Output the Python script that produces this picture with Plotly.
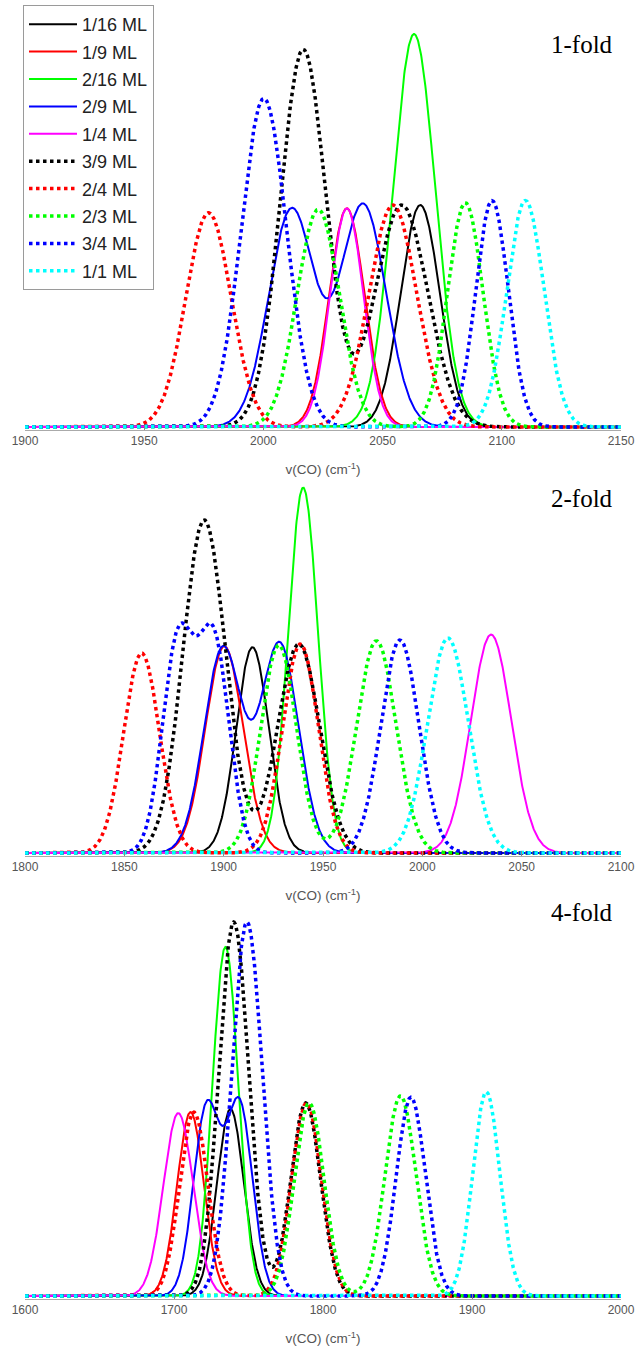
import numpy as np
import plotly.graph_objects as go

# ---------------- data ----------------
SERIES = ["1/16 ML", "1/9 ML", "2/16 ML", "2/9 ML", "1/4 ML",
          "3/9 ML", "2/4 ML", "2/3 ML", "3/4 ML", "1/1 ML"]
COLORS = ["#000000", "#ff0000", "#00ff00", "#0000ff", "#ff00ff",
          "#000000", "#ff0000", "#00ff00", "#0000ff", "#00ffff"]
DOTTED = [False, False, False, False, False, True, True, True, True, True]

PANEL_TITLES = ["1-fold", "2-fold", "4-fold"]
X_RANGES = [[1900, 2150], [1800, 2100], [1600, 2000]]
X_TICKS = [[1900, 1950, 2000, 2050, 2100, 2150],
           [1800, 1850, 1900, 1950, 2000, 2050, 2100],
           [1600, 1700, 1800, 1900, 2000]]

# peak centres (cm-1), relative heights, Gaussian widths (sigma, cm-1)
ONEFOLD_CENTERS = [[2065.8], [2035.0], [2063.2], [2011.8, 2041.9], [2035.0],
                   [2016.7, 2058.0], [1977.0, 2054.3], [2023.0, 2084.7],
                   [2000.2, 2095.9], [2109.9]]
ONEFOLD_HEIGHTS = [[1.00], [0.985], [1.77], [0.98, 1.00], [0.985],
                   [1.70, 1.00], [0.965, 1.00], [0.98, 1.01],
                   [1.48, 1.02], [1.02]]
ONEFOLD_SIGMAS = [[8.2], [7.4], [8.9], [9.6, 9.6], [7.0],
                  [9.5, 11.0], [9.5, 10.0], [8.9, 7.4],
                  [9.5, 6.8], [7.8]]

TWOFOLD_CENTERS = [[1914.5], [1900.3], [1940.0], [1899.6, 1928.2], [2034.6],
                   [1890.2, 1937.8], [1858.7, 1938.6], [1927.7, 1976.9],
                   [1877.0, 1895.0, 1988.7], [2012.9]]
TWOFOLD_HEIGHTS = [[0.98], [0.985], [1.74], [0.975, 0.995], [1.04],
                   [1.586, 0.995], [0.952, 0.995], [0.99, 1.01],
                   [1.005, 1.005, 1.014], [1.024]]
TWOFOLD_SIGMAS = [[8.2], [9.5], [7.5], [9.5, 9.5], [10.2],
                  [10.7, 10.5], [9.0, 9.0], [9.0, 9.9],
                  [7.8, 7.8, 9.6], [10.3]]

FOURFOLD_CENTERS = [[1737.9], [1711.1], [1734.5], [1721.8, 1744.0], [1702.9],
                    [1740.1, 1788.4], [1713.3, 1789.0], [1790.7, 1852.0],
                    [1749.0, 1859.0], [1909.6]]
FOURFOLD_HEIGHTS = [[0.984], [0.968], [1.837], [0.984, 1.00], [0.963],
                    [1.968, 1.016], [0.968, 1.016], [1.016, 1.053],
                    [1.968, 1.046], [1.074]]
FOURFOLD_SIGMAS = [[9.0], [9.0], [8.7], [8.8, 8.8], [10.0],
                   [10.0, 10.0], [9.5, 10.0], [10.0, 10.4],
                   [10.2, 9.8], [9.1]]

PANELS = [(ONEFOLD_CENTERS, ONEFOLD_HEIGHTS, ONEFOLD_SIGMAS),
          (TWOFOLD_CENTERS, TWOFOLD_HEIGHTS, TWOFOLD_SIGMAS),
          (FOURFOLD_CENTERS, FOURFOLD_HEIGHTS, FOURFOLD_SIGMAS)]

# ---------------- layout geometry (pixels) ----------------
W, H = 638, 1349
X_LEFT, X_RIGHT = 25, 621
BASELINES = [427, 853, 1296]   # y pixel of zero intensity
TOPS = [3, 482, 890]           # y pixel of top of plotting area
SCALES = [222, 210, 190]       # pixels per intensity unit
PAD = 3

fig = go.Figure()


def spectrum(x, centers, heights, sigmas):
    y = np.zeros_like(x)
    for c, a, s in zip(centers, heights, sigmas):
        y += a * np.exp(-0.5 * ((x - c) / s) ** 2)
    return y


for p, (cents, hts, sigs) in enumerate(PANELS):
    x = np.linspace(X_RANGES[p][0], X_RANGES[p][1], 1500)
    xa = "x" if p == 0 else f"x{p+1}"
    ya = "y" if p == 0 else f"y{p+1}"
    for i, name in enumerate(SERIES):
        y = spectrum(x, cents[i], hts[i], sigs[i])
        if DOTTED[i]:
            line = dict(color=COLORS[i], width=3.5, dash="3.5px,3.5px")
        else:
            line = dict(color=COLORS[i], width=2)
        fig.add_trace(go.Scatter(
            x=x, y=y, mode="lines", name=name, line=line,
            xaxis=xa, yaxis=ya, showlegend=(p == 0),
            legendgroup=f"g{i}", hoverinfo="skip"))

layout = dict(
    width=W, height=H,
    margin=dict(l=0, r=0, t=0, b=0, autoexpand=False),
    paper_bgcolor="white", plot_bgcolor="white",
    font=dict(family="Liberation Sans, Arial, sans-serif", color="#555555"),
    legend=dict(
        x=23 / W, y=1 - 5 / H, xanchor="left", yanchor="top",
        bgcolor="white", bordercolor="#9a9a9a", borderwidth=1,
        font=dict(size=18, color="#222222", family="Liberation Sans, Arial, sans-serif"),
        traceorder="grouped", tracegroupgap=1, itemwidth=48),
    annotations=[],
)

for p in range(3):
    sfx = "" if p == 0 else str(p + 1)
    B, T, S = BASELINES[p], TOPS[p], SCALES[p]
    layout["xaxis" + sfx] = dict(
        domain=[X_LEFT / W, X_RIGHT / W],
        range=X_RANGES[p], anchor="y" + sfx, automargin=False,
        tickmode="array", tickvals=X_TICKS[p],
        ticks="inside", ticklen=5, tickcolor="#888888",
        showline=True, linecolor="#aaaaaa", linewidth=1,
        showgrid=False, zeroline=False,
        tickfont=dict(size=12, color="#555555"),
        title=dict(text="v(CO) (cm<sup>-1</sup>)",
                   font=dict(size=13.5, color="#555555"), standoff=17),
        fixedrange=True)
    layout["yaxis" + sfx] = dict(
        domain=[(H - (B + PAD)) / H, (H - T) / H],
        range=[-PAD / S, (B - T) / S], anchor="x" + sfx,
        visible=False, fixedrange=True, automargin=False)
    layout["annotations"].append(dict(
        text=PANEL_TITLES[p], xref="paper", yref="paper",
        x=582 / W, y=1 - [44, 498, 912][p] / H,
        xanchor="center", yanchor="middle", showarrow=False,
        font=dict(family="Liberation Serif, Times New Roman, serif", size=25, color="#000000")))

fig.update_layout(**layout)
fig.write_html("out.html", config={"displayModeBar": False},
               post_script="document.body.style.margin='0px';")
